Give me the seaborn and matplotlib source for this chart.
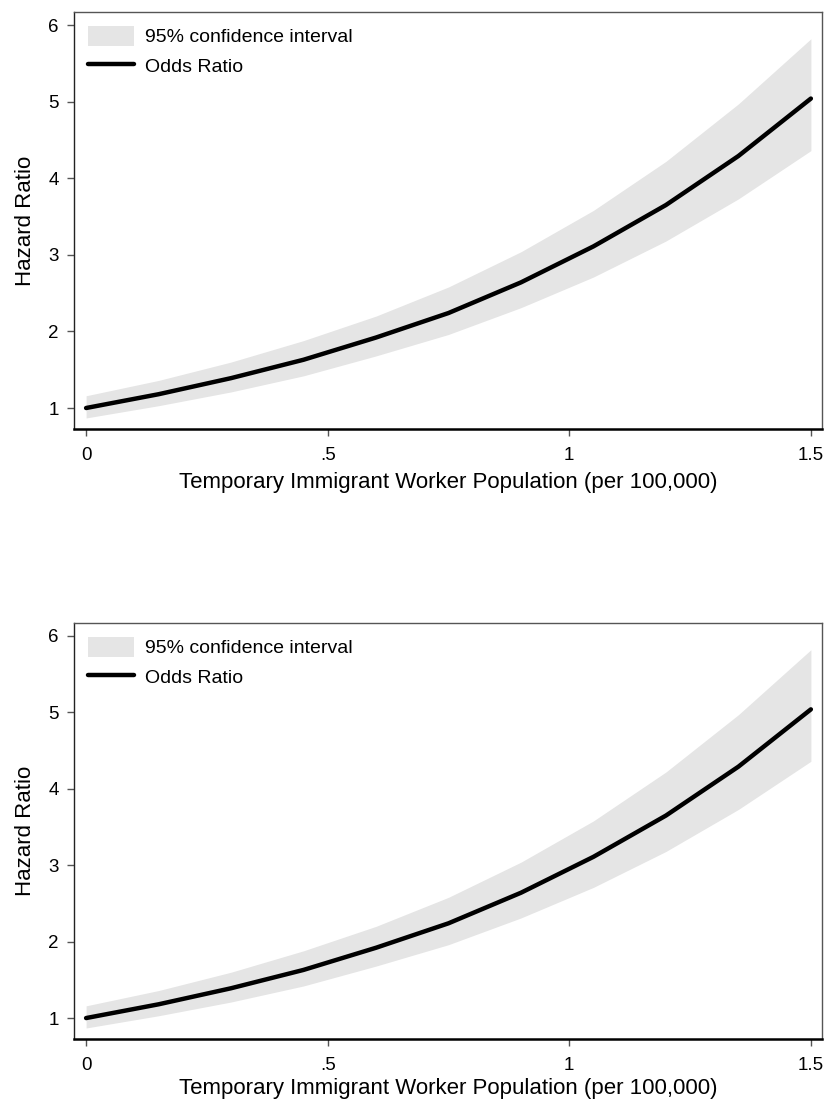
import matplotlib
matplotlib.use("Agg")
import matplotlib.pyplot as plt
import seaborn as sns
import pandas as pd
from matplotlib.patches import Patch
from matplotlib.lines import Line2D

# Temporary immigrant worker population (per 100,000)
worker_pop = [0.0, 0.15, 0.30, 0.45, 0.60, 0.75, 0.90, 1.05, 1.20, 1.35, 1.50]
# Estimated ratio and 95% confidence bounds
ratio = [1.00, 1.18, 1.39, 1.63, 1.92, 2.24, 2.64, 3.11, 3.65, 4.29, 5.04]
ci_low = [0.87, 1.03, 1.21, 1.42, 1.68, 1.96, 2.31, 2.71, 3.18, 3.73, 4.36]
ci_high = [1.16, 1.36, 1.60, 1.88, 2.20, 2.58, 3.04, 3.58, 4.22, 4.97, 5.82]

x_ticks = [0, 0.5, 1, 1.5]
x_tick_labels = ["0", ".5", "1", "1.5"]
y_ticks = [1, 2, 3, 4, 5, 6]

x_title = "Temporary Immigrant Worker Population (per 100,000)"
y_title = "Hazard Ratio"
band_label = "95% confidence interval"
line_label = "Odds Ratio"

df = pd.DataFrame({"pop": worker_pop, "ratio": ratio,
                   "low": ci_low, "high": ci_high})

sns.set_theme(style="ticks")
plt.rcParams["font.family"] = ["Liberation Sans", "DejaVu Sans"]

BAND = "#e5e5e5"
fig = plt.figure(figsize=(8.25, 11.01), dpi=100)

# (axes rectangle, x-title padding)
panels = [
    ([74 / 825, 1 - 429 / 1101, 748 / 825, 417 / 1101], 5.5),
    ([74 / 825, 1 - 1039 / 1101, 748 / 825, 416 / 1101], 2.5),
]

for rect, xpad in panels:
    ax = fig.add_axes(rect)
    ax.fill_between(df["pop"], df["low"], df["high"], color=BAND,
                    linewidth=0, zorder=1)
    sns.lineplot(data=df, x="pop", y="ratio", ax=ax, color="black",
                 linewidth=3.2, zorder=3, legend=False,
                 solid_capstyle="round")

    ax.set_xlim(-0.025, 1.523)
    ax.set_ylim(0.726, 6.17)
    ax.set_xticks(x_ticks)
    ax.set_xticklabels(x_tick_labels)
    ax.set_yticks(y_ticks)
    ax.tick_params(axis="both", direction="out", length=5, width=1,
                   color="#555555", labelsize=13.5, labelcolor="black", pad=6)
    ax.tick_params(axis="x", pad=8)

    ax.set_xlabel(x_title, fontsize=16, labelpad=xpad, color="black")
    ax.set_ylabel(y_title, fontsize=16, labelpad=9, color="black")

    for side in ("top", "right"):
        ax.spines[side].set_visible(True)
        ax.spines[side].set_color("#555555")
        ax.spines[side].set_linewidth(1.0)
    ax.spines["left"].set_color("#222222")
    ax.spines["left"].set_linewidth(1.0)
    ax.spines["bottom"].set_color("black")
    ax.spines["bottom"].set_linewidth(1.8)

    handles = [Patch(facecolor=BAND, edgecolor="none", label=band_label),
               Line2D([], [], color="black", linewidth=3.2, label=line_label)]
    ax.legend(handles=handles, loc="upper left", frameon=False,
              fontsize=14, handlelength=2.4, handleheight=1.2,
              handletextpad=0.55, labelspacing=0.5, labelcolor="black",
              borderaxespad=0.25, borderpad=0.45)

fig.savefig("out.png", dpi=100)
